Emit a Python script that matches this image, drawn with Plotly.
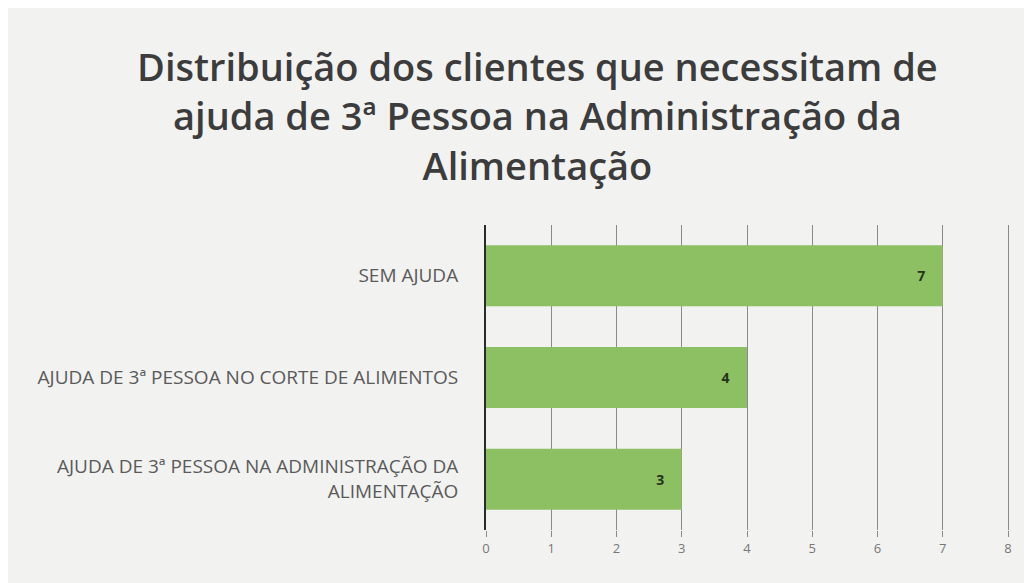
import plotly.graph_objects as go

categories = [
    "SEM AJUDA",
    "AJUDA DE 3ª PESSOA NO CORTE DE ALIMENTOS",
    "AJUDA DE 3ª PESSOA NA ADMINISTRAÇÃO DA<br>ALIMENTAÇÃO",
]
values = [7, 4, 3]
x_ticks = [0, 1, 2, 3, 4, 5, 6, 7, 8]

title_text = ("Distribuição dos clientes que necessitam de<br>"
              "ajuda de 3ª Pessoa na Administração da<br>Alimentação")

NBSP = "\u00a0"

fig = go.Figure(go.Bar(
    y=categories,
    x=values,
    orientation="h",
    marker=dict(color="#8dc063", line=dict(width=0)),
    text=[str(v) + NBSP * 4 for v in values],
    textposition="inside",
    insidetextanchor="end",
    textfont=dict(family="Open Sans", size=14, color="#26331c", weight="bold"),
    width=0.6,
))

fig.update_layout(
    width=1032, height=583,
    paper_bgcolor="#f2f2f1",
    plot_bgcolor="#f2f2f1",
    margin=dict(l=478, r=30, t=217, b=61),
    showlegend=False,
    title=dict(
        text=title_text,
        x=0.513, xanchor="center",
        y=0.875, yanchor="middle",
        font=dict(family="Open Sans", size=38, color="#3c3c3c", weight=600),
    ),
    xaxis=dict(
        range=[0, 8.03],
        tickvals=x_ticks,
        showgrid=True,
        gridcolor="#8a8a8a",
        gridwidth=1,
        zeroline=False,
        ticks="outside",
        ticklen=6,
        tickcolor="#8a8a8a",
        tickfont=dict(family="Open Sans", size=13, color="#777777"),
        showline=False,
    ),
    yaxis=dict(
        autorange="reversed",
        showline=True,
        linecolor="#2a2a2a",
        linewidth=2,
        ticks="",
        ticklabelstandoff=22,
        tickfont=dict(family="Open Sans", size=19, color="#5a5a5a"),
    ),
)

fig.write_html("out.html")
